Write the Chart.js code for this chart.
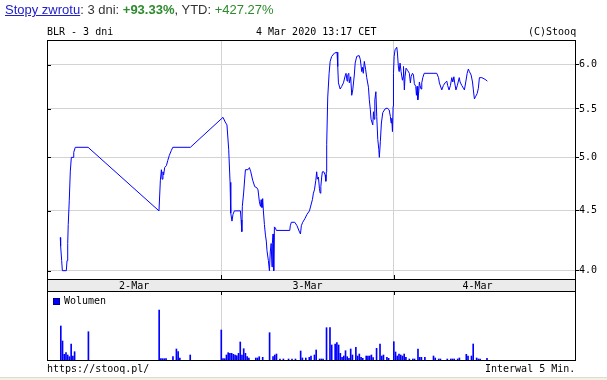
<!DOCTYPE html>
<html><head><meta charset="utf-8">
<script src="https://cdn.jsdelivr.net/npm/chart.js@4.4.1/dist/chart.umd.min.js"></script>
<style>
html,body{margin:0;padding:0;background:#fff;}
body{width:607px;height:380px;overflow:hidden;position:relative;}
canvas{position:absolute;left:0;top:0;}
.t{position:absolute;font:10px "DejaVu Sans Mono",monospace;color:#000;white-space:pre;line-height:12px;}
#hdr{position:absolute;left:5px;top:2px;font:13px "Liberation Sans",Arial,sans-serif;color:#333;white-space:nowrap;line-height:16px;}
#hdr a{color:#2020cc;text-decoration:underline;}
.g{color:#2d8a2d;}
#leg{position:absolute;left:53px;top:298px;width:5px;height:5px;background:#0000ff;border:1px solid #000080;}
#foot{position:absolute;left:0;top:377px;width:607px;height:3px;background:#f1f1e6;border-top:1px solid #dedece;}
</style></head><body>
<canvas id="p" width="607" height="380"></canvas>
<canvas id="v" width="607" height="380"></canvas>
<div id="hdr"><a>Stopy zwrotu</a>: 3 dni: <b class="g">+93.33%</b>, YTD: <span class="g">+427.27%</span></div>
<div class="t" style="left:47px;top:26px">BLR - 3 dni</div>
<div class="t" style="left:256px;top:26px">4 Mar 2020 13:17 CET</div>
<div class="t" style="left:528px;top:26px">(C)Stooq</div>
<div id="leg"></div>
<div class="t" style="left:64px;top:295px">Wolumen</div>
<div class="t" style="left:47px;top:363px">https://stooq.pl/</div>
<div class="t" style="left:485px;top:363px">Interwal 5 Min.</div>
<div id="foot"></div>
<script>
// sessions (bar index, 5-minute bars)
const dayLabels = ["2-Mar", "3-Mar", "4-Mar"];
const dayStart = [0, 101, 201];
const dayEnd = [101, 201, 298];
const separators = [101, 201];
const priceTicks = [4.0, 4.5, 5.0, 5.5, 6.0];
const Y_MIN = 3.935, Y_MAX = 6.30;

const priceIdx = [
7.7,7.9,8.5,8.9,11.2,11.6,12.0,12.3,12.9,13.5,14.1,15.1,15.5,16.4,23.8,
64.9,65.7,66.3,66.7,67.2,67.6,68.2,69.2,70.0,70.9,72.1,72.9,83.1,101.4,102.0,
103.3,104.3,105.3,106.1,106.5,107.2,107.8,108.6,112.1,112.5,112.9,113.2,114.0,114.6,115.0,
116.5,117.3,118.1,119.2,120.4,121.6,122.3,123.1,123.7,124.1,124.6,125.0,125.4,126.0,126.6,
127.1,127.5,128.3,128.9,129.4,129.9,130.4,130.6,131.0,131.4,131.8,132.4,132.9,140.7,141.0,
141.6,143.6,144.9,146.5,146.9,147.4,148.2,149.4,150.7,152.1,153.8,154.4,155.0,155.8,156.3,
156.7,157.3,157.9,158.3,158.7,159.2,159.6,160.4,161.2,161.6,161.9,162.1,162.7,163.5,164.1,
165.0,166.6,168.1,168.5,168.9,169.9,170.8,171.8,172.8,173.3,173.9,174.3,174.9,175.2,176.0,
176.6,177.2,178.1,178.6,179.5,180.9,181.6,182.4,182.8,183.3,183.9,184.7,185.3,186.3,186.8,
187.4,187.8,188.8,189.2,189.6,190.0,190.6,191.1,191.7,192.3,192.6,193.2,193.8,194.6,195.9,
197.1,198.3,199.0,199.4,199.8,200.2,200.6,200.8,201.2,201.7,202.7,203.1,203.7,204.1,204.6,
205.2,206.0,206.4,206.6,207.1,207.5,208.1,209.1,210.0,210.6,211.0,211.8,212.4,212.9,213.7,
214.1,214.5,214.9,215.5,215.8,216.2,216.8,217.2,217.8,218.6,225.9,226.9,227.4,228.8,229.7,
230.7,231.7,232.2,233.0,233.8,234.6,235.2,235.8,236.2,237.0,237.8,238.9,239.4,240.4,241.3,
241.9,242.7,243.5,244.2,244.8,245.8,246.6,247.1,247.7,248.5,249.3,250.0,250.6,252.0,253.9,
255.2];
const priceVal = [
4.27,4.20,4.08,4.00,4.00,4.08,4.22,4.38,4.59,4.86,5.00,5.00,5.05,5.10,5.10,
4.50,4.78,4.88,4.79,4.86,4.83,4.90,4.92,4.97,5.02,5.07,5.10,5.10,5.40,5.41,
5.36,5.33,5.08,4.76,4.48,4.41,4.47,4.50,4.50,4.42,4.32,4.54,4.67,4.80,4.88,
4.88,4.90,4.86,4.78,4.72,4.71,4.69,4.58,4.54,4.60,4.53,4.61,4.50,4.38,4.29,
4.24,4.16,4.08,4.00,4.15,4.22,4.03,4.22,4.30,4.00,4.36,4.35,4.33,4.33,4.37,
4.40,4.40,4.37,4.31,4.30,4.37,4.40,4.43,4.47,4.50,4.60,4.66,4.69,4.78,4.86,
4.79,4.81,4.70,4.66,4.72,4.81,4.86,4.86,4.83,4.77,4.86,5.13,5.63,5.90,6.04,
6.10,6.14,6.15,5.98,5.79,5.72,5.75,5.79,5.87,5.90,5.81,5.88,5.90,5.79,5.86,
5.65,5.71,5.88,6.02,6.10,6.11,6.06,5.92,5.97,5.90,6.04,5.94,5.85,5.74,5.60,
5.49,5.39,5.33,5.47,5.39,5.60,5.69,5.42,5.18,5.08,5.00,5.16,5.35,5.46,5.50,
5.51,5.49,5.42,5.35,5.40,5.26,5.53,5.90,6.10,6.18,6.21,6.14,5.96,5.92,6.02,
5.92,5.82,5.86,5.98,5.71,5.86,5.96,5.93,5.90,5.79,5.86,5.90,5.88,5.78,5.75,
5.65,5.75,5.60,5.70,5.80,5.76,5.72,5.79,5.85,5.90,5.90,5.85,5.79,5.71,5.76,
5.79,5.81,5.76,5.71,5.76,5.85,5.80,5.86,5.80,5.71,5.76,5.85,5.80,5.76,5.73,
5.71,5.80,5.90,5.95,5.92,5.88,5.80,5.71,5.61,5.64,5.67,5.73,5.85,5.85,5.83,
5.81];

const volIdx = [
8,9,10,11,12,13,14,15,16,24,65,66,67,68,69,73,75,76,77,83,
101,102,103,104,105,106,107,108,109,110,111,112,113,114,115,116,117,121,122,123,
125,129,131,132,133,135,137,140,142,144,147,148,150,152,153,155,156,158,159,160,
162,164,165,167,168,169,170,171,172,173,174,175,176,177,179,180,181,182,183,185,
186,187,188,189,191,193,194,195,197,198,
201,202,203,204,205,206,207,208,210,212,213,215,216,217,219,224,225,227,228,232,
234,235,236,238,239,243,244,246,247,249,250,251,255];
const volVal = [
34000,19000,5700,7300,5000,3300,16000,4000,8300,28300,50000,1300,1300,1300,1300,3300,11000,8300,2000,5000,
30000,1300,1300,5000,7300,6700,6700,5700,5000,4300,6700,18000,5000,11300,6700,3300,2000,2000,2000,3300,
2700,27300,3300,5000,6000,1000,1000,1000,1000,1000,9000,2000,2000,2700,4000,5000,10000,1000,1000,1000,
32300,32300,15000,16000,17300,15000,6700,2700,4000,9300,3300,1700,11000,5000,12700,4000,6000,2700,1700,4000,
4000,4000,5000,2300,11700,16000,4000,5000,2700,1700,
18300,8000,4000,6000,5000,4000,6000,2700,1000,1000,1000,11000,2700,2700,2700,4000,2000,1000,1000,1000,
1000,1000,1000,1000,2000,5700,4000,4000,16000,2000,1000,1000,1700];

const GRID = '#d3d3d3';
const FONT = 'DejaVu Sans Mono';

function noPad(s) { s.paddingTop = 0; s.paddingBottom = 0; s.paddingLeft = 0; s.paddingRight = 0; }

function makeX() {
  return {
    type: 'linear', min: 0, max: 306, offset: false,
    afterBuildTicks: s => { s.ticks = separators.map(v => ({ value: v })); },
    ticks: { display: false },
    grid: { color: GRID, drawTicks: false, offset: false },
    border: { display: false },
    afterFit: s => { s.height = 0; noPad(s); }
  };
}

function frame(ctx, a) {
  ctx.save();
  ctx.strokeStyle = '#000';
  ctx.lineWidth = 1;
  ctx.strokeRect(Math.round(a.left) + 0.5, Math.round(a.top) + 0.5,
                 Math.round(a.right - a.left), Math.round(a.bottom - a.top));
  ctx.restore();
}

const pricePlugin = {
  id: 'priceFrame',
  afterDraw(chart) {
    const ctx = chart.ctx, a = chart.chartArea;
    const xs = chart.scales.x, ys = chart.scales.y;
    frame(ctx, a);
    ctx.save();
    ctx.strokeStyle = '#000';
    ctx.lineWidth = 1;
    priceTicks.forEach(v => {
      const y = Math.round(ys.getPixelForValue(v)) + 0.5;
      ctx.beginPath(); ctx.moveTo(a.left, y); ctx.lineTo(a.left + 4, y); ctx.stroke();
    });
    const top = Math.round(a.bottom) + 1, bot = top + 12;
    ctx.fillStyle = '#ebebeb';
    ctx.fillRect(a.left + 1, top, a.right - a.left - 1, bot - top);
    ctx.beginPath(); ctx.moveTo(a.left + 0.5, top - 1); ctx.lineTo(a.left + 0.5, bot);
    ctx.moveTo(Math.round(a.right) + 0.5, top - 1); ctx.lineTo(Math.round(a.right) + 0.5, bot);
    ctx.stroke();
    separators.forEach(v => {
      const x = Math.round(xs.getPixelForValue(v)) + 0.5;
      ctx.beginPath(); ctx.moveTo(x, a.bottom - 4); ctx.lineTo(x, a.bottom); ctx.stroke();
    });
    ctx.fillStyle = '#000';
    ctx.font = '10px "' + FONT + '"';
    ctx.textAlign = 'center';
    ctx.textBaseline = 'middle';
    dayLabels.forEach((lab, i) => {
      ctx.fillText(lab, xs.getPixelForValue((dayStart[i] + dayEnd[i]) / 2), top + 6);
    });
    ctx.restore();
  }
};

new Chart(document.getElementById('p'), {
  type: 'line',
  data: { datasets: [{
    data: priceIdx.map((x, i) => ({ x: x, y: priceVal[i] })),
    borderColor: '#0000ff', borderWidth: 1, pointRadius: 0, tension: 0, fill: false
  }]},
  options: {
    responsive: false, animation: false, devicePixelRatio: 1,
    layout: { padding: { left: 47, top: 40, right: 0, bottom: 101 } },
    plugins: { legend: { display: false }, tooltip: { enabled: false } },
    scales: {
      x: makeX(),
      y: {
        type: 'logarithmic', position: 'right', min: Y_MIN, max: Y_MAX, bounds: 'data',
        afterBuildTicks: s => { s.ticks = priceTicks.map(v => ({ value: v })); s.min = Y_MIN; s.max = Y_MAX; },
        ticks: { font: { family: FONT, size: 10 }, color: '#000', padding: 0,
                 callback: v => Number(v).toFixed(1) },
        grid: { color: GRID, tickColor: '#000', tickLength: 4 },
        border: { display: false },
        afterFit: s => { s.width = 32; noPad(s); }
      }
    }
  },
  plugins: [pricePlugin]
});

const volPlugin = {
  id: 'volFrame',
  afterDraw(chart) {
    const ctx = chart.ctx, a = chart.chartArea, xs = chart.scales.x;
    frame(ctx, a);
    ctx.save();
    ctx.strokeStyle = '#000';
    separators.forEach(v => {
      const x = Math.round(xs.getPixelForValue(v)) + 0.5;
      ctx.beginPath(); ctx.moveTo(x, a.top); ctx.lineTo(x, a.top + 4); ctx.stroke();
    });
    ctx.restore();
  }
};

new Chart(document.getElementById('v'), {
  type: 'bar',
  data: { datasets: [{
    data: volIdx.map((x, i) => ({ x: x, y: volVal[i] })),
    backgroundColor: '#0000ff', borderWidth: 0, barThickness: 1
  }]},
  options: {
    responsive: false, animation: false, devicePixelRatio: 1,
    layout: { padding: { left: 47, top: 291, right: 32, bottom: 20 } },
    plugins: { legend: { display: false }, tooltip: { enabled: false } },
    scales: {
      x: makeX(),
      y: { display: false, min: 0, max: 69000 }
    }
  },
  plugins: [volPlugin]
});
</script>
</body></html>
